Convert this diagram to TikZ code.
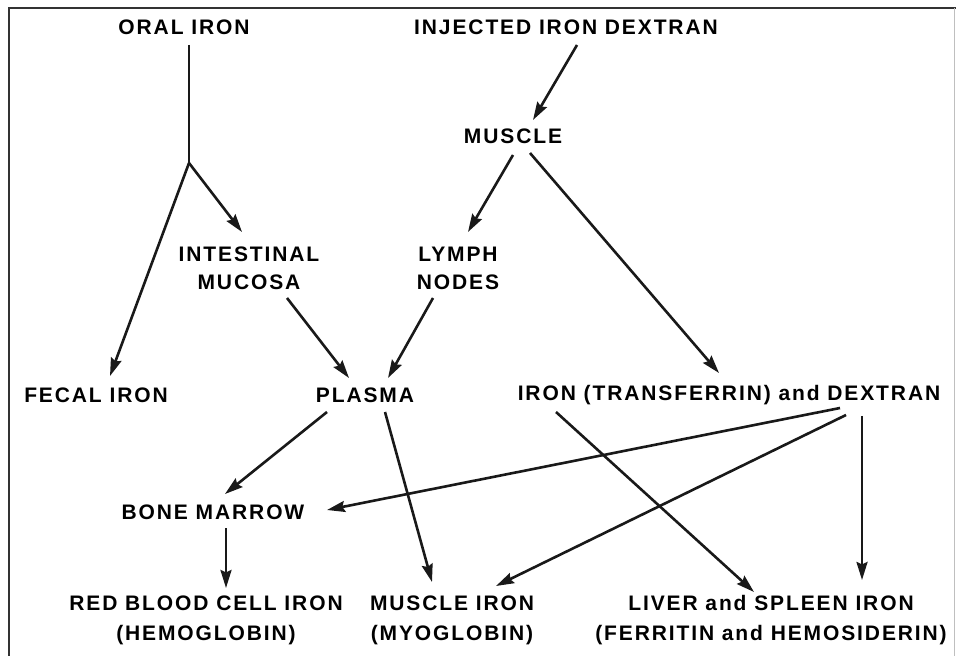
\documentclass[tikz,border=0pt]{standalone}
\usepackage{fontspec}
\newfontfamily\flowfont{Liberation Sans}[LetterSpace=9]
\usepackage{tikz}
\usetikzlibrary{arrows.meta,calc}

\begin{document}
\begin{tikzpicture}[x=0.5pt,y=-0.5pt,
	every node/.style={font=\flowfont\bfseries\fontsize{10.5}{14}\selectfont, inner sep=0pt, anchor=center, align=center},
	store/.style={font=\flowfont\bfseries\fontsize{10.5}{15}\selectfont},
	flow/.style={line width=1.3pt, black!90},
	arr/.style={flow, -{Stealth[length=9pt,width=5.5pt,inset=1.2pt]}}]
	\useasboundingbox (0,0) rectangle (956,656);
	% frame
	\draw[line width=1pt, black!80] (9,656) -- (9,8) -- (956,8);
	\draw[line width=0.4pt, black!25] (954,8) -- (954,656);
	% sources
	\node (oral) at (184,27) {ORAL IRON};
	\node (inject) at (566,27) {INJECTED IRON DEXTRAN};
	\node (muscle) at (513,136) {MUSCLE};
	\node (intest) at (249,268) {INTESTINAL\\MUCOSA};
	\node (lymph) at (458,268) {LYMPH\\NODES};
	\node (fecal) at (96,395) {FECAL IRON};
	\node (plasma) at (365,395) {PLASMA};
	\node (transf) at (729,395) {IRON (TRANSFERRIN) and DEXTRAN};
	\node (marrow) at (213,512) {BONE MARROW};
	% end stores
	\node[store] (rbc) at (206,620) {RED BLOOD CELL IRON\\(HEMOGLOBIN)};
	\node[store] (myo) at (452,620) {MUSCLE IRON\\(MYOGLOBIN)};
	\node[store] (liver) at (771,620) {LIVER and SPLEEN IRON\\(FERRITIN and HEMOSIDERIN)};
	\coordinate (split) at (189,163);

	\draw[flow] ($(oral)+(5,18)$) -- (split);
	\draw[arr] (split) -- ($(fecal)+(14,-19)$);
	\draw[arr] (split) -- ($(intest)+(-7,-36)$);
	\draw[arr] ($(inject)+(11,18)$) -- ($(muscle)+(20,-16)$);
	\draw[arr] ($(muscle)+(0,19)$) -- ($(lymph)+(10,-36)$);
	\draw[arr] ($(muscle)+(17,17)$) -- ($(transf)+(-10,-22)$);
	\draw[arr] ($(intest)+(38,30)$) -- ($(plasma)+(-16,-17)$);
	\draw[arr] ($(lymph)+(-25,30)$) -- ($(plasma)+(23,-17)$);
	\draw[arr] ($(plasma)+(-38,17)$) -- ($(marrow)+(12,-18)$);
	\draw[arr] ($(plasma)+(20,17)$) -- ($(myo)+(-20,-38)$);
	\draw[arr] ($(transf)+(-173,17)$) -- ($(liver)+(-17,-28)$);
	\draw[arr] ($(transf)+(111,13)$) -- ($(marrow)+(114,-2)$);
	\draw[arr] ($(transf)+(117,20)$) -- ($(myo)+(44,-34)$);
	\draw[arr] ($(transf)+(133,21)$) -- ($(liver)+(91,-40)$);
	\draw[arr] ($(marrow)+(13,16)$) -- ($(rbc)+(20,-32)$);
\end{tikzpicture}
\end{document}
